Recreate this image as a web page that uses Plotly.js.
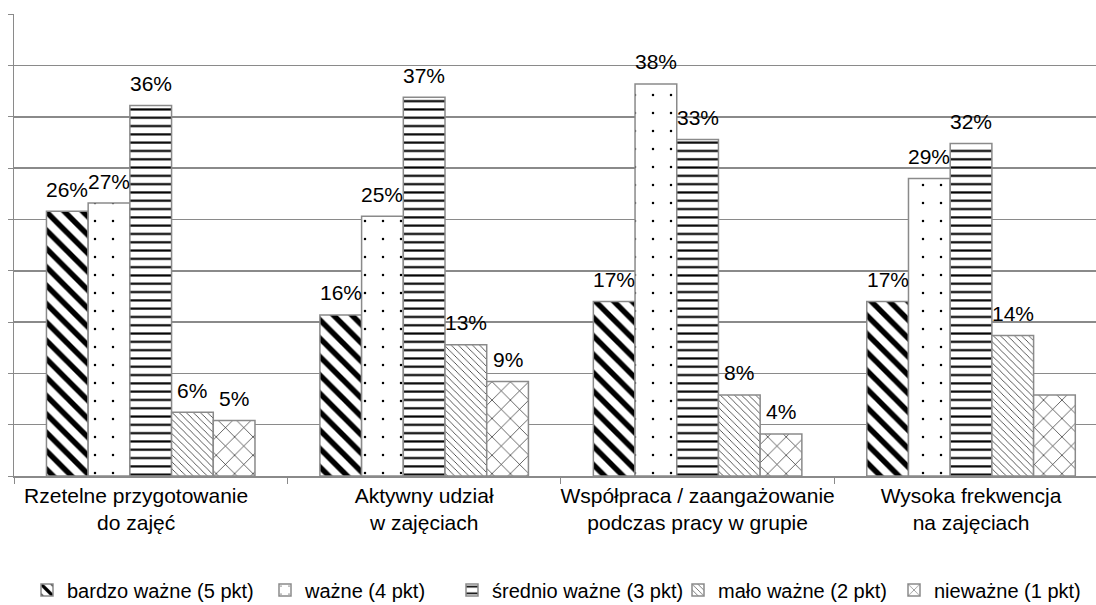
<!DOCTYPE html>
<html>
<head>
<meta charset="utf-8">
<script src="https://cdn.plot.ly/plotly-3.0.1.min.js"></script>
<style>html,body{margin:0;padding:0;background:#fff;}#chart{width:1096px;height:605px;}</style>
</head>
<body>
<div id="chart"></div>
<script>
const categories = [
  "Rzetelne przygotowanie<br>do zajęć",
  "Aktywny udział<br>w zajęciach",
  "Współpraca / zaangażowanie<br>podczas pracy w grupie",
  "Wysoka frekwencja<br>na zajęciach"
];
const seriesNames = ["bardzo ważne (5 pkt)", "ważne (4 pkt)", "średnio ważne (3 pkt)", "mało ważne (2 pkt)", "nieważne (1 pkt)"];
const bardzoWazne = [0.258, 0.157, 0.170, 0.170];
const wazne = [0.266, 0.253, 0.382, 0.290];
const srednioWazne = [0.361, 0.369, 0.328, 0.324];
const maloWazne = [0.062, 0.128, 0.079, 0.137];
const niewazne = [0.054, 0.092, 0.041, 0.079];
// data labels shown in the original (false = no label drawn)
const labelShown = [
  [true, true, true, true],
  [true, true, true, true],
  [true, true, true, true],
  [true, true, true, true],
  [true, true, true, false]
];

const allValues = [bardzoWazne, wazne, srednioWazne, maloWazne, niewazne];
const patterns = [
  {shape: "\\", size: 13, solidity: 0.42},
  {shape: ".", size: 18, solidity: 0.015},
  {shape: "-", size: 8.3, solidity: 0.26},
  {shape: "\\", size: 5, solidity: 0.13},
  {shape: "x", size: 13, solidity: 0.09}
];

const FONT = "Liberation Sans, Arial, sans-serif";
const xRange = [-0.5, 3.457];
const plotW = 1096 - 14;
const pxPerCat = plotW / (xRange[1] - xRange[0]);
const bargap = 0.2374;
const barW = pxPerCat * (1 - bargap) / 5;

// legend entry layout: x (px) of each legend symbol centre
const legendSymbolX = [47, 285, 472, 698, 914];
const legendKeys = ["legend", "legend2", "legend3", "legend4", "legend5"];

// first category label sits a little left of its category centre in the original
const NBSP = "\u00A0";
const tickText = categories.map((c, j) => j === 0
  ? c.split("<br>").map(s => s + NBSP.repeat(5)).join("<br>")
  : c);

const traces = allValues.map((vals, i) => ({
  type: "bar",
  name: seriesNames[i],
  x: categories,
  y: vals,
  legend: legendKeys[i],
  marker: {
    color: "#ffffff",
    line: {color: "#8a8a8a", width: 1.5},
    pattern: Object.assign({fgcolor: "#000000", bgcolor: "#ffffff", fgopacity: 1, fillmode: "replace"}, patterns[i])
  },
  hoverinfo: "skip"
}));

const annotations = [];
allValues.forEach((vals, i) => {
  vals.forEach((v, j) => {
    if (!labelShown[i][j]) return;
    annotations.push({
      x: categories[j], y: v, xref: "x", yref: "y",
      text: Math.round(v * 100) + "%",
      showarrow: false,
      xshift: (i - 2) * barW,
      yshift: 22,
      yanchor: "middle",
      font: {family: FONT, size: 21, color: "#000"}
    });
  });
});

const layout = {
  width: 1096, height: 605,
  margin: {l: 14, r: 0, t: 14, b: 128.5, pad: 0},
  paper_bgcolor: "#fff", plot_bgcolor: "#fff",
  barmode: "group", bargap: bargap, bargroupgap: 0,
  font: {family: FONT, size: 21, color: "#000"},
  xaxis: {
    type: "category", range: xRange,
    tickmode: "array", tickvals: categories, ticktext: tickText,
    showline: true, linecolor: "#8a8a8a", linewidth: 1.5,
    ticks: "outside", tickson: "boundaries", ticklen: 6, tickcolor: "#8a8a8a", tickwidth: 1,
    showgrid: false, zeroline: false, tickangle: 0,
    tickfont: {family: FONT, size: 21, color: "#000"}
  },
  yaxis: {
    range: [0, 0.4502], dtick: 0.05, tick0: 0,
    showticklabels: false,
    showline: true, linecolor: "#8a8a8a", linewidth: 1.5,
    ticks: "outside", ticklen: 5, tickcolor: "#8a8a8a", tickwidth: 1,
    showgrid: true, gridcolor: "#8a8a8a", gridwidth: 1.5,
    zeroline: false
  },
  showlegend: true,
  annotations: annotations
};
legendKeys.forEach((k, i) => {
  layout[k] = {
    orientation: "h", xref: "container", yref: "container",
    x: (legendSymbolX[i] - 20) / 1096, xanchor: "left",
    y: 15 / 605, yanchor: "middle",
    font: {family: FONT, size: 20, color: "#000"},
    itemwidth: 30, bgcolor: "rgba(0,0,0,0)"
  };
});

Plotly.newPlot("chart", traces, layout, {displayModeBar: false, staticPlot: true});
</script>
</body>
</html>
